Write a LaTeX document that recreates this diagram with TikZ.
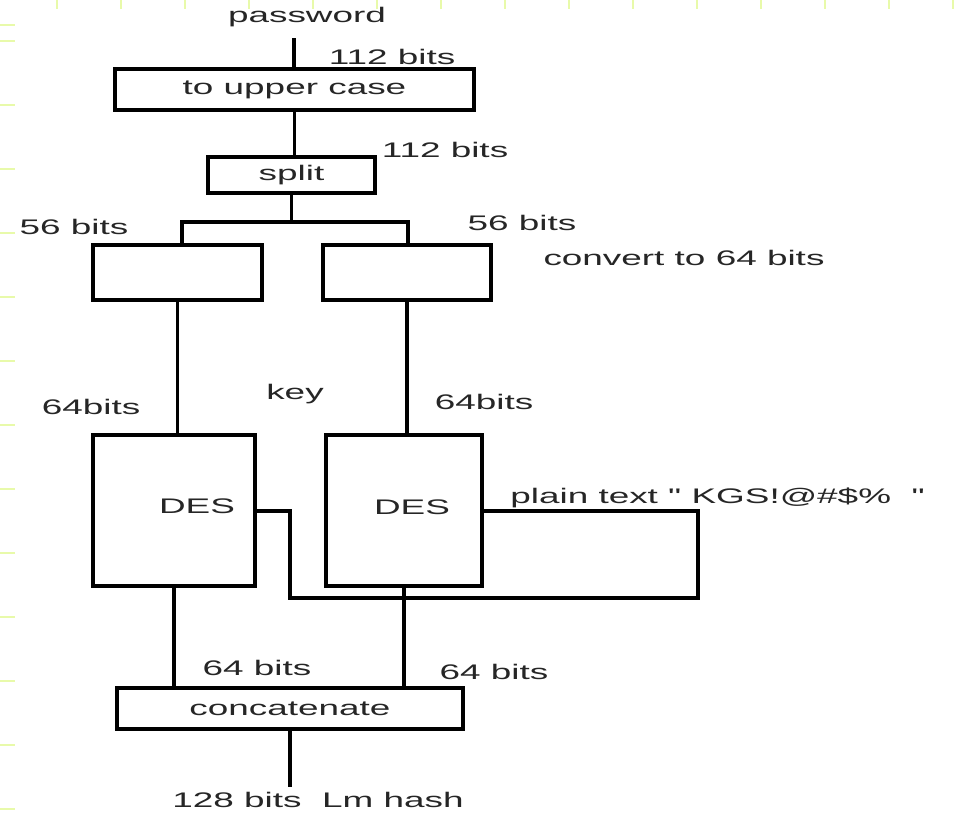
\documentclass[tikz,border=0pt]{standalone}
\usepackage{fontspec}
\setmainfont{Liberation Sans}
\usepackage{graphicx}
\definecolor{rulerc}{RGB}{232,250,170}
\newcommand{\wide}[1]{\scalebox{1.75}[1]{#1}}
\begin{document}
\begin{tikzpicture}[x=0.02cm,y=-0.02cm,
  every node/.style={font=\fontsize{12}{14}\selectfont,text=black!85,inner sep=0pt},
  blk/.style={draw,line width=2.2pt,inner sep=0pt},
  wire/.style={line width=2.2pt},
  rulertick/.style={rulerc,line width=1.5pt}]
\useasboundingbox[fill=white] (0,0) rectangle (966,812);
% ruler ticks
\foreach \tx in {57,121,...,953} \draw[rulertick] (\tx,0)--(\tx,9);
\foreach \ty in {25,41,105,...,809} \draw[rulertick] (0,\ty)--(15,\ty);
% boxes
\node[blk,minimum width=7.18cm,minimum height=0.82cm] (upper) at (294.5,89.5) {\wide{to upper case}};
\node[blk,minimum width=3.34cm,minimum height=0.72cm] (split) at (291.5,175) {\wide{split}};
\node[blk,minimum width=3.38cm,minimum height=1.1cm] (convL) at (177.5,272.5) {};
\node[blk,minimum width=3.36cm,minimum height=1.1cm] (convR) at (407,272.5) {};
\node[blk,minimum width=3.24cm,minimum height=3.02cm] (desL) at (174,510.5) {};
\node[blk,minimum width=3.12cm,minimum height=3.02cm] (desR) at (404,510.5) {};
\node[blk,minimum width=6.92cm,minimum height=0.82cm] (concat) at (290,708.5) {\wide{concatenate}};
\node (desLtxt) at (197,506) {\wide{DES}};
\node (desRtxt) at (412,507) {\wide{DES}};
% labels
\node (pw) at (307,17) {\wide{password}};
\node (bitsA) at (392,57) {\wide{112 bits}};
\node (bitsB) at (445,150) {\wide{112 bits}};
\node (halfL) at (74,227) {\wide{56 bits}};
\node (halfR) at (522,223) {\wide{56 bits}};
\node (conv) at (684,258) {\wide{convert to 64 bits}};
\node (keyL) at (91,407) {\wide{64bits}};
\node (key) at (295,394) {\wide{key}};
\node (keyR) at (484,402) {\wide{64bits}};
\node[anchor=west] (plain) at (510,498) {\wide{plain text \textquotedbl\ KGS!@\#\$\%\ \ \textquotedbl}};
\node (outL) at (257,668) {\wide{64 bits}};
\node (outR) at (494,672) {\wide{64 bits}};
\node (hash) at (318,800) {\wide{128 bits\ \ Lm hash}};
% wires
\coordinate (pwEnd) at (294,38);
\coordinate (forkL) at (182,222);
\coordinate (forkR) at (408,222);
\coordinate (loopR) at (698,511);
\coordinate (loopB) at (290,598);
\coordinate (hashEnd) at (293,787);
\draw[wire] (pwEnd) -- (pwEnd |- upper.north);
\draw[wire] (upper.south) -- (upper.south |- split.north);
\draw[wire] (split.south) -- (split.south |- forkL);
\draw[wire] (forkL |- convL.north) -- (forkL) -- (forkR) -- (forkR |- convR.north);
\draw[wire] (convL.south) -- (convL.south |- desL.north);
\draw[wire] (convR.south) -- (convR.south |- desR.north);
\draw[wire] (desR.east |- loopR) -- (loopR) -- (loopR |- loopB) -- (loopB)
  -- (loopB |- loopR) -- (desL.east |- loopR);
\draw[wire] (desL.south) -- (desL.south |- concat.north);
\draw[wire] (desR.south) -- (desR.south |- concat.north);
\draw[wire] (concat.south) -- (concat.south |- hashEnd);
\end{tikzpicture}
\end{document}
